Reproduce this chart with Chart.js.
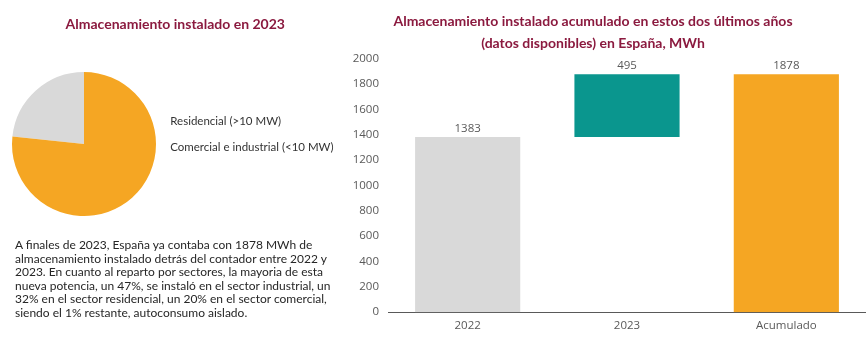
<!DOCTYPE html>
<html lang="es">
<head>
<meta charset="utf-8">
<script src="https://cdn.jsdelivr.net/npm/chart.js@4.4.1/dist/chart.umd.min.js"></script>
<style>
  html, body { margin: 0; padding: 0; background: #fff; overflow: hidden; }
  body { width: 866px; height: 340px; position: relative; }
  #pieWrap { position: absolute; left: 0; top: 0; width: 340px; height: 254px; }
  #barWrap { position: absolute; left: 320px; top: 0; width: 546px; height: 340px; }
  .note {
    position: absolute; left: 15px; top: 238px; width: 325px;
    font-family: Lato, "Open Sans", sans-serif; font-size: 12px; line-height: 13.5px;
    color: #262626;
  }
</style>
</head>
<body>
<div id="pieWrap"><canvas id="pieChart"></canvas></div>
<div id="barWrap"><canvas id="barChart"></canvas></div>
<div class="note">
  A finales de 2023, España ya contaba con 1878 MWh de<br>
  almacenamiento instalado detrás del contador entre 2022 y<br>
  2023. En cuanto al reparto por sectores, la mayoria de esta<br>
  nueva potencia, un 47%, se instaló en el sector industrial, un<br>
  32% en el sector residencial, un 20% en el sector comercial,<br>
  siendo el 1% restante, autoconsumo aislado.
</div>
<script>
  // Pie data (share of 2023 installs)
  const pieLabels = ["Residencial (>10 MW)", "Comercial e industrial (<10 MW)"];
  const pieValues = [23.3, 76.7];
  const pieColors = ["#D9D9D9", "#F5A623"];

  // Waterfall data, MWh
  const barLabels = ["2022", "2023", "Acumulado"];
  const barStart = [0, 1383, 0];
  const barEnd = [1383, 1878, 1878];
  const barColors = ["#D9D9D9", "#0A968E", "#F5A623"];
  const yTicks = [0, 200, 400, 600, 800, 1000, 1200, 1400, 1600, 1800, 2000];

  const titleColor = "#8B1A3F";
  const tickColor = "#595959";

  /* --- PIE CHART --- */
  new Chart(document.getElementById("pieChart"), {
    type: "pie",
    data: {
      labels: pieLabels,
      datasets: [{
        data: pieValues,
        backgroundColor: pieColors,
        borderWidth: 0,
      }],
    },
    options: {
      responsive: true,
      maintainAspectRatio: false,
      animation: false,
      rotation: -pieValues[0] * 3.6, // grey slice ends at 12 o'clock
      layout: { padding: { left: 12, right: 1.5, top: 16, bottom: 0.6 } },
      plugins: {
        tooltip: { enabled: false },
        title: {
          display: true,
          text: "Almacenamiento instalado en 2023",
          color: titleColor,
          font: { family: "Lato", size: 14, weight: "bold", lineHeight: 1.2 },
          padding: { top: 0, bottom: 2 },
        },
        legend: {
          display: true,
          position: "right",
          fullSize: true,
          maxWidth: 182.5,
          labels: {
            boxWidth: 0,
            boxHeight: 17.5,
            padding: 8.5,
            color: "#333",
            font: { family: "Lato", size: 11.5 },
          },
        },
      },
    },
  });

  /* --- BAR CHART --- */
  // writes the bar size above each bar
  const valueLabels = {
    id: "valueLabels",
    afterDatasetsDraw(chart) {
      const ctx = chart.ctx;
      const meta = chart.getDatasetMeta(0);
      ctx.save();
      ctx.font = "11.5px 'Open Sans'";
      ctx.fillStyle = tickColor;
      ctx.textAlign = "center";
      ctx.textBaseline = "bottom";
      meta.data.forEach((bar, i) => {
        const top = Math.min(bar.y, bar.base);
        ctx.fillText(String(barEnd[i] - barStart[i]), bar.x, top - 3);
      });
      ctx.restore();
    },
  };

  new Chart(document.getElementById("barChart"), {
    type: "bar",
    data: {
      labels: barLabels,
      datasets: [{
        data: barLabels.map((_, i) => [barStart[i], barEnd[i]]),
        backgroundColor: barColors,
        borderWidth: 0,
        categoryPercentage: 1,
        barPercentage: 0.66,
      }],
    },
    options: {
      responsive: true,
      maintainAspectRatio: false,
      animation: false,
      layout: { padding: { left: 0, right: 0, top: 10, bottom: 0 } },
      plugins: {
        legend: { display: false },
        tooltip: { enabled: false },
        title: {
          display: true,
          text: [
            "Almacenamiento instalado acumulado en estos dos últimos años",
            "(datos disponibles) en España, MWh",
          ],
          color: titleColor,
          font: { family: "Lato", size: 14, weight: "bold", lineHeight: 1.6 },
          padding: { top: 0, bottom: 4 },
        },
      },
      scales: {
        x: {
          grid: { display: false, drawTicks: false },
          border: { display: true, color: "#595959", width: 1 },
          ticks: { color: tickColor, padding: 7, font: { family: "Open Sans", size: 11.5 } },
        },
        y: {
          min: 0,
          max: 2000,
          afterBuildTicks: (scale) => { scale.ticks = yTicks.map((v) => ({ value: v })); },
          afterFit: (scale) => { scale.width = 68; },
          grid: { display: false, drawTicks: false },
          border: { display: false },
          ticks: {
            color: tickColor,
            padding: 9,
            font: { family: "Open Sans", size: 11.5 },
            callback: (v) => String(v),
          },
        },
      },
    },
    plugins: [valueLabels],
  });
</script>
</body>
</html>
